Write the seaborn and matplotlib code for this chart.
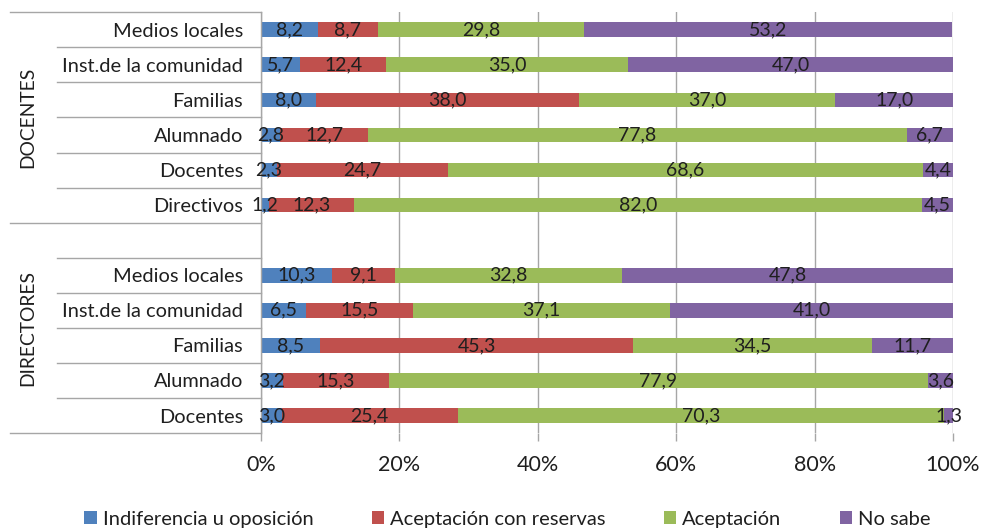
import numpy as np
import pandas as pd
import matplotlib.pyplot as plt
import matplotlib.transforms as mtransforms
from matplotlib.patches import Patch
import seaborn as sns

# Datos
CATEGORIAS_DOC = ['Medios locales', 'Inst.de la comunidad', 'Familias',
                  'Alumnado', 'Docentes', 'Directivos']
CATEGORIAS_DIR = ['Medios locales', 'Inst.de la comunidad', 'Familias',
                  'Alumnado', 'Docentes']
RESPUESTAS = ['Indiferencia u oposición', 'Aceptación con reservas',
              'Aceptación', 'No sabe']

indiferencia_doc = [8.2, 5.7, 8.0, 2.8, 2.3, 1.2]
reservas_doc = [8.7, 12.4, 38.0, 12.7, 24.7, 12.3]
aceptacion_doc = [29.8, 35.0, 37.0, 77.8, 68.6, 82.0]
nosabe_doc = [53.2, 47.0, 17.0, 6.7, 4.4, 4.5]

indiferencia_dir = [10.3, 6.5, 8.5, 3.2, 3.0]
reservas_dir = [9.1, 15.5, 45.3, 15.3, 25.4]
aceptacion_dir = [32.8, 37.1, 34.5, 77.9, 70.3]
nosabe_dir = [47.8, 41.0, 11.7, 3.6, 1.3]

COLORES = ['#4F81BD', '#C0504D', '#9BBB59', '#8064A2']
GRIS = '#A6A6A6'
TEXTO = '#1F1F1F'

plt.rcParams['font.family'] = ['Lato', 'DejaVu Sans']

# Tabla larga
filas = []
for grupo, cats, series in [
        ('DOC', CATEGORIAS_DOC, [indiferencia_doc, reservas_doc, aceptacion_doc, nosabe_doc]),
        ('DIR', CATEGORIAS_DIR, [indiferencia_dir, reservas_dir, aceptacion_dir, nosabe_dir])]:
    for i, cat in enumerate(cats):
        acum = 0.0
        for resp, serie in zip(RESPUESTAS, series):
            v = serie[i]
            filas.append({'clave': f'{grupo}|{cat}', 'respuesta': resp,
                          'valor': v, 'inicio': acum, 'acum': acum + v})
            acum += v
df = pd.DataFrame(filas)

orden = [f'DOC|{c}' for c in CATEGORIAS_DOC] + ['DIR|vacio'] + [f'DIR|{c}' for c in CATEGORIAS_DIR]
etiquetas = CATEGORIAS_DOC + [''] + CATEGORIAS_DIR

fig, ax = plt.subplots(figsize=(9.85, 5.32), dpi=100)
fig.subplots_adjust(left=0.265, right=0.9675, top=0.977, bottom=0.186)

# Barras apiladas: se dibuja el acumulado de mayor a menor
for resp, color in reversed(list(zip(RESPUESTAS, COLORES))):
    sub = df[df['respuesta'] == resp]
    sns.barplot(data=sub, x='acum', y='clave', order=orden, orient='h',
                color=color, width=0.42, linewidth=0, saturation=1,
                errorbar=None, ax=ax)

pos = {k: i for i, k in enumerate(orden)}
for _, r in df.iterrows():
    txt = f"{r['valor']:.1f}".replace('.', ',')
    ax.text(r['inicio'] + r['valor'] / 2, pos[r['clave']], txt,
            ha='center', va='center', fontsize=14, color=TEXTO)

ax.set_xlim(0, 100)
ax.set_ylim(11.5, -0.5)
ticks = [0, 20, 40, 60, 80, 100]
ax.set_xticks(ticks)
ax.set_xticklabels([f'{t}%' for t in ticks], fontsize=15.5, color=TEXTO)
ax.set_yticks(range(len(orden)))
ax.set_yticklabels(etiquetas, fontsize=14.4, color=TEXTO)
ax.tick_params(axis='y', length=0, pad=13)
ax.tick_params(axis='x', length=6, width=1, color=GRIS, pad=10)
ax.set_xlabel('')
ax.set_ylabel('')
ax.grid(axis='x', color=GRIS, linewidth=1)
ax.set_axisbelow(True)
for lado in ['top', 'right', 'bottom']:
    ax.spines[lado].set_visible(False)
ax.spines['left'].set_color(GRIS)
ax.spines['left'].set_linewidth(1)

# Líneas de separación del eje de categorías
trans = mtransforms.blended_transform_factory(ax.transAxes, ax.transData)
for y in [0.5, 1.5, 2.5, 3.5, 4.5, 6.5, 7.5, 8.5, 9.5, 10.5]:
    ax.plot([-0.295, 0], [y, y], transform=trans, color=GRIS, lw=1, clip_on=False)
for y in [-0.5, 5.5, 11.5]:
    ax.plot([-0.363, 0], [y, y], transform=trans, color=GRIS, lw=1, clip_on=False)

ax.text(-0.337, 2.5, 'DOCENTES', transform=trans, rotation=90,
        ha='center', va='center', fontsize=13.9, color=TEXTO)
ax.text(-0.337, 8.5, 'DIRECTORES', transform=trans, rotation=90,
        ha='center', va='center', fontsize=13.9, color=TEXTO)

handles = [Patch(facecolor=c, edgecolor='none') for c in COLORES]
fig.legend(handles, RESPUESTAS, loc='center', bbox_to_anchor=(0.515, 0.024),
           ncol=4, frameon=False, fontsize=14.5, handlelength=0.6,
           handleheight=0.6, handletextpad=0.3, columnspacing=2.9,
           labelcolor=TEXTO)

fig.savefig('out.png', dpi=100)
